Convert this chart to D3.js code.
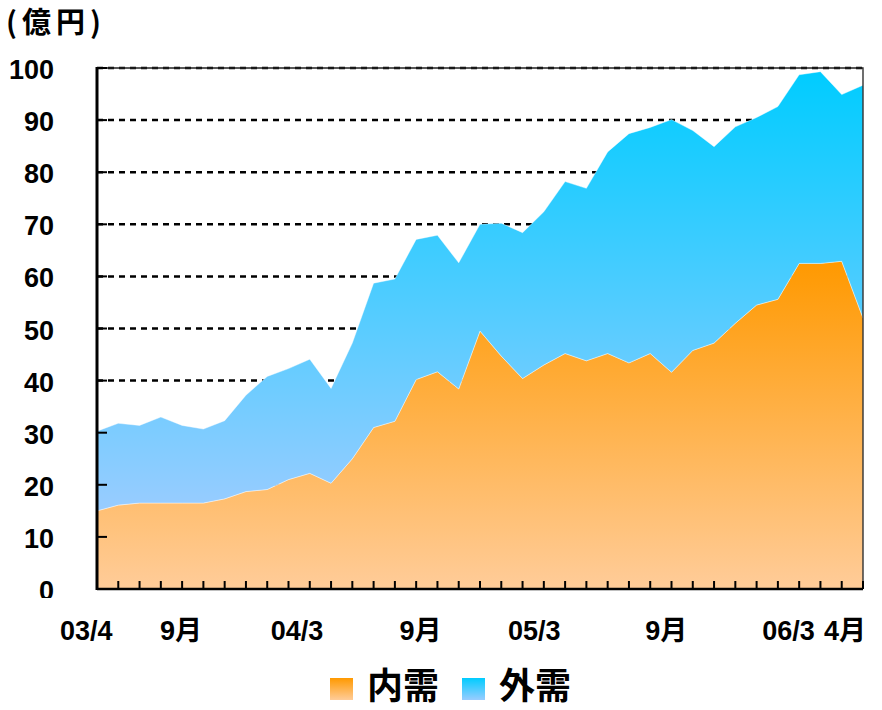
<!DOCTYPE html>
<html>
<head>
<meta charset="utf-8">
<script src="https://cdn.jsdelivr.net/npm/d3@7"></script>
<style>
  body { margin: 0; background: #fff; }
  svg { display: block; }
</style>
</head>
<body>
<svg width="882" height="710"></svg>
<script>
// monthly data, 03/4 .. 06/4 (37 months)
var naiju = [15.0, 16.1, 16.5, 16.5, 16.5, 16.5, 17.3, 18.7, 19.1, 21.0,
             22.2, 20.3, 25.0, 31.0, 32.2, 40.2, 41.7, 38.4, 49.5, 44.7,
             40.4, 43.0, 45.2, 43.8, 45.2, 43.4, 45.2, 41.6, 45.8, 47.2,
             51.0, 54.5, 55.6, 62.5, 62.5, 62.9, 52.0];
var gaiju = [15.3, 15.7, 14.9, 16.5, 14.9, 14.2, 15.0, 18.5, 21.7, 21.3,
             21.9, 18.2, 22.2, 27.7, 27.3, 26.9, 26.2, 24.2, 20.5, 25.5,
             28.0, 29.4, 33.0, 33.1, 38.7, 44.0, 43.4, 48.5, 42.2, 37.7,
             37.7, 36.0, 37.0, 36.2, 36.8, 32.0, 44.7];
var seriesNames = ["内需", "外需"];
var yTicks = [0, 10, 20, 30, 40, 50, 60, 70, 80, 90, 100];
// x labels and where they sit, in months from 03/4
var xLabels = ["03/4", "9月", "04/3", "9月", "05/3", "9月", "06/3", "4月"];
var xLabelAt = [-0.5, 3.95, 9.4, 15.2, 20.55, 26.75, 32.5, 35.15];

var svg = d3.select("svg"),
    margin = {top: 68, right: 19, bottom: 121, left: 97},
    width = 882 - margin.left - margin.right,
    height = 710 - margin.top - margin.bottom,
    g = svg.append("g").attr("transform", "translate(" + margin.left + "," + margin.top + ")");

var numFont = "'Liberation Sans', 'Noto Sans CJK JP', sans-serif";
var cjkFont = "'Noto Sans CJK JP', sans-serif";

var data = naiju.map(function(d, i) { return {i: i, 内需: d, 外需: gaiju[i]}; });

var x = d3.scaleLinear().domain([0, naiju.length - 1]).range([0, width]);
var y = d3.scaleLinear().domain([0, 100]).range([height, 0]);

var colors = {
  "内需": ["#ff9900", "#ffcc99"],
  "外需": ["#00ccff", "#99ccff"]
};

// gradients
var defs = svg.append("defs");
seriesNames.forEach(function(k, j) {
  var gr = defs.append("linearGradient")
      .attr("id", "grad" + j)
      .attr("x1", 0).attr("y1", 0).attr("x2", 0).attr("y2", 1);
  gr.append("stop").attr("offset", "0%").attr("stop-color", colors[k][0]);
  gr.append("stop").attr("offset", "100%").attr("stop-color", colors[k][1]);
});
defs.append("clipPath").attr("id", "labclip")
  .append("rect").attr("x", 0).attr("y", 0).attr("width", 882).attr("height", 598);

// dashed grid
g.append("g")
  .selectAll("line")
  .data(yTicks.slice(1))
  .enter().append("line")
    .attr("x1", 0).attr("x2", width)
    .attr("y1", function(d) { return y(d); })
    .attr("y2", function(d) { return y(d); })
    .attr("stroke", "#000")
    .attr("stroke-width", 2.5)
    .attr("stroke-dasharray", "6,5");

// stacked areas
var stack = d3.stack().keys(seriesNames);
var layers = stack(data);

var area = d3.area()
    .x(function(d) { return x(d.data.i); })
    .y0(function(d) { return y(d[0]); })
    .y1(function(d) { return y(d[1]); });

g.append("g")
  .selectAll("path")
  .data(layers)
  .enter().append("path")
    .attr("d", area)
    .attr("fill", function(d, j) { return "url(#grad" + j + ")"; })
    .attr("stroke", "#fff")
    .attr("stroke-opacity", 0.5)
    .attr("stroke-width", 0.8);

// frame: thin top / right
g.append("path")
  .attr("d", "M0,0H" + width + "V" + height)
  .attr("fill", "none")
  .attr("stroke", "#222")
  .attr("stroke-width", 1.3);

// x axis with inward ticks
g.append("g")
  .selectAll("line")
  .data(d3.range(1, naiju.length))
  .enter().append("line")
    .attr("x1", function(d) { return x(d); })
    .attr("x2", function(d) { return x(d); })
    .attr("y1", height).attr("y2", height - 8)
    .attr("stroke", "#000")
    .attr("stroke-width", 2);

// y axis with inward ticks
g.append("g")
  .selectAll("line")
  .data(yTicks)
  .enter().append("line")
    .attr("x1", 0).attr("x2", 10)
    .attr("y1", function(d) { return y(d); })
    .attr("y2", function(d) { return y(d); })
    .attr("stroke", "#000")
    .attr("stroke-width", 2);

g.append("line")
  .attr("x1", 0).attr("x2", width)
  .attr("y1", height).attr("y2", height)
  .attr("stroke", "#000").attr("stroke-width", 2.5);
g.append("line")
  .attr("x1", 0).attr("x2", 0)
  .attr("y1", -1).attr("y2", height + 1)
  .attr("stroke", "#000").attr("stroke-width", 3);

// y tick labels
svg.append("g")
    .attr("clip-path", "url(#labclip)")
  .selectAll("text")
  .data(yTicks)
  .enter().append("text")
    .attr("x", 54)
    .attr("y", function(d) { return margin.top + y(d) + 11; })
    .attr("text-anchor", "end")
    .attr("font-family", numFont)
    .attr("font-size", 27)
    .attr("font-weight", "bold")
    .attr("fill", "#000")
    .text(function(d) { return d; });

// x labels
svg.append("g")
  .selectAll("text")
  .data(xLabels)
  .enter().append("text")
    .attr("x", function(d, i) { return margin.left + x(xLabelAt[i]); })
    .attr("y", 640)
    .attr("text-anchor", "middle")
    .attr("font-family", numFont)
    .attr("font-size", 27)
    .attr("font-weight", "bold")
    .attr("fill", "#000")
    .text(function(d) { return d; });

// unit
svg.append("text")
    .attr("x", 6)
    .attr("y", 33)
    .attr("font-family", cjkFont)
    .attr("font-size", 29)
    .attr("font-weight", "bold")
    .attr("letter-spacing", 5)
    .text("(億円)");

// legend
var legend = svg.append("g")
  .selectAll("g")
  .data(seriesNames)
  .enter().append("g")
    .attr("transform", function(d, i) { return "translate(" + (330 + i * 132) + ",678)"; });

legend.append("rect")
    .attr("width", 23)
    .attr("height", 22)
    .attr("fill", function(d, i) { return "url(#grad" + i + ")"; });

legend.append("text")
    .attr("x", 37)
    .attr("y", 21)
    .attr("font-family", cjkFont)
    .attr("font-size", 36)
    .attr("font-weight", "bold")
    .text(function(d) { return d; });
</script>
</body>
</html>
